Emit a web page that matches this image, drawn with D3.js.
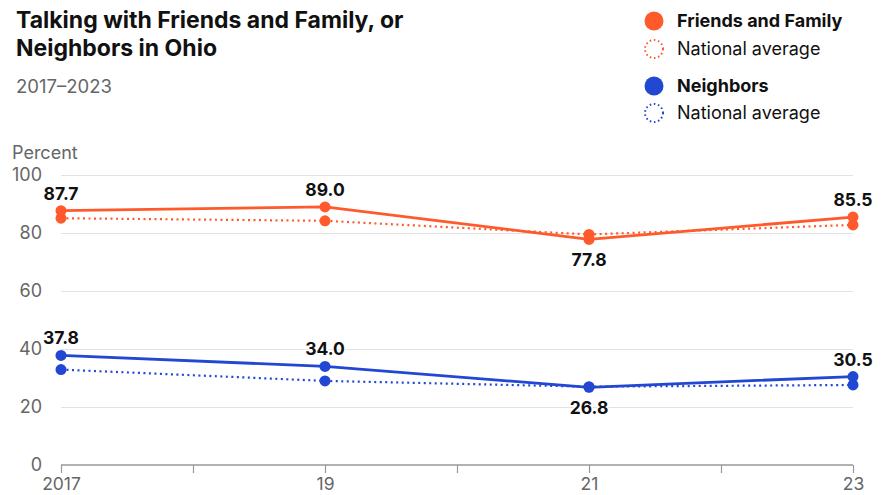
<!DOCTYPE html>
<html><head><meta charset="utf-8">
<script src="https://cdn.jsdelivr.net/npm/d3@7"></script>
<style>body{margin:0;background:#fff;font-family:"Inter","Liberation Sans",sans-serif;}</style>
</head><body><svg id="c" width="887" height="495"></svg>
<script>
const years = [2017, 2019, 2021, 2023];
const yearLabels = ["2017", "19", "21", "23"];
const friends = [87.7, 89.0, 77.8, 85.5];
const friendsNational = [85.1, 84.2, 79.5, 82.8];
const neighbors = [37.8, 34.0, 26.8, 30.5];
const neighborsNational = [32.9, 29.0, 27.0, 27.6];
const yTicks = [0, 20, 40, 60, 80, 100];
const labelBelow = [false, false, true, false];

const ORANGE = "#FF5A2B", BLUE = "#2147D3";
const svg = d3.select("#c");
const x = d3.scaleLinear().domain([2017, 2023]).range([61, 853]);
const y = d3.scaleLinear().domain([0, 100]).range([465, 175]);

// title
svg.append("text").attr("x", 16).attr("y", 28).attr("font-size", 23).attr("font-weight", 700).attr("fill", "#111").text("Talking with Friends and Family, or");
svg.append("text").attr("x", 16).attr("y", 56).attr("font-size", 23).attr("font-weight", 700).attr("fill", "#111").text("Neighbors in Ohio");
svg.append("text").attr("x", 16).attr("y", 93).attr("font-size", 18.5).attr("fill", "#666").text("2017–2023");

// legend
const legend = [
  {label: "Friends and Family", color: ORANGE, dotted: false, y: 21},
  {label: "National average", color: ORANGE, dotted: true, y: 49},
  {label: "Neighbors", color: BLUE, dotted: false, y: 86},
  {label: "National average", color: BLUE, dotted: true, y: 113}
];
const lg = svg.append("g");
legend.forEach(d => {
  if (d.dotted) {
    lg.append("circle").attr("cx", 654).attr("cy", d.y).attr("r", 9).attr("fill", "none").attr("stroke", d.color).attr("stroke-width", 2).attr("stroke-dasharray", "1.5,2.7");
  } else {
    lg.append("circle").attr("cx", 654).attr("cy", d.y).attr("r", 9.5).attr("fill", d.color);
  }
  lg.append("text").attr("x", 677).attr("y", d.y + 6).attr("font-size", 18).attr("font-weight", d.dotted ? 400 : 700).attr("fill", "#111").text(d.label);
});

// y axis
svg.append("text").attr("x", 12).attr("y", 159).attr("font-size", 18).attr("fill", "#666").text("Percent");
const ya = svg.append("g").attr("transform", "translate(61,0)")
  .call(d3.axisLeft(y).tickValues(yTicks).tickSize(-792).tickFormat(d3.format("d")));
ya.select(".domain").remove();
ya.selectAll(".tick line").attr("stroke", "#e2e2e2").attr("stroke-width", 1.2).attr("display", d => d === 0 ? "none" : null);
ya.selectAll(".tick text").attr("x", -19).attr("font-size", 18).attr("fill", "#666").attr("font-family", "Inter, Liberation Sans, sans-serif");

// x axis
const xa = svg.append("g").attr("transform", "translate(0,465)")
  .call(d3.axisBottom(x).tickValues(d3.range(2017, 2024)).tickSize(8).tickFormat(d => {
    const i = years.indexOf(d); return i >= 0 ? yearLabels[i] : "";
  }));
xa.select(".domain").attr("stroke", "#999").attr("stroke-width", 1.5).attr("d", "M61,0H853");
xa.selectAll(".tick line").attr("stroke", "#999").attr("stroke-width", 1.2);
xa.selectAll(".tick text").attr("y", 13).attr("font-size", 17.5).attr("fill", "#666").attr("font-family", "Inter, Liberation Sans, sans-serif");

const line = d3.line().x((d, i) => x(years[i])).y(d => y(d));

function drawSeries(vals, color, dotted) {
  svg.append("path").datum(vals).attr("d", line).attr("fill", "none").attr("stroke", color)
    .attr("stroke-width", dotted ? 2.2 : 2.8).attr("stroke-dasharray", dotted ? "2,3.5" : null);
  svg.append("g").selectAll("circle").data(vals).join("circle")
    .attr("cx", (d, i) => x(years[i])).attr("cy", d => y(d)).attr("r", 5.5).attr("fill", color);
}
drawSeries(friendsNational, ORANGE, true);
drawSeries(neighborsNational, BLUE, true);
drawSeries(friends, ORANGE, false);
drawSeries(neighbors, BLUE, false);

function drawLabels(vals) {
  svg.append("g").selectAll("text").data(vals).join("text")
    .attr("x", (d, i) => x(years[i])).attr("y", (d, i) => labelBelow[i] ? y(d) + 27 : y(d) - 11)
    .attr("text-anchor", "middle").attr("font-size", 17.5).attr("font-weight", 700).attr("fill", "#111")
    .style("paint-order", "stroke").attr("stroke", "#fff").attr("stroke-width", 3)
    .text(d => d.toFixed(1));
}
drawLabels(friends);
drawLabels(neighbors);
</script></body></html>
